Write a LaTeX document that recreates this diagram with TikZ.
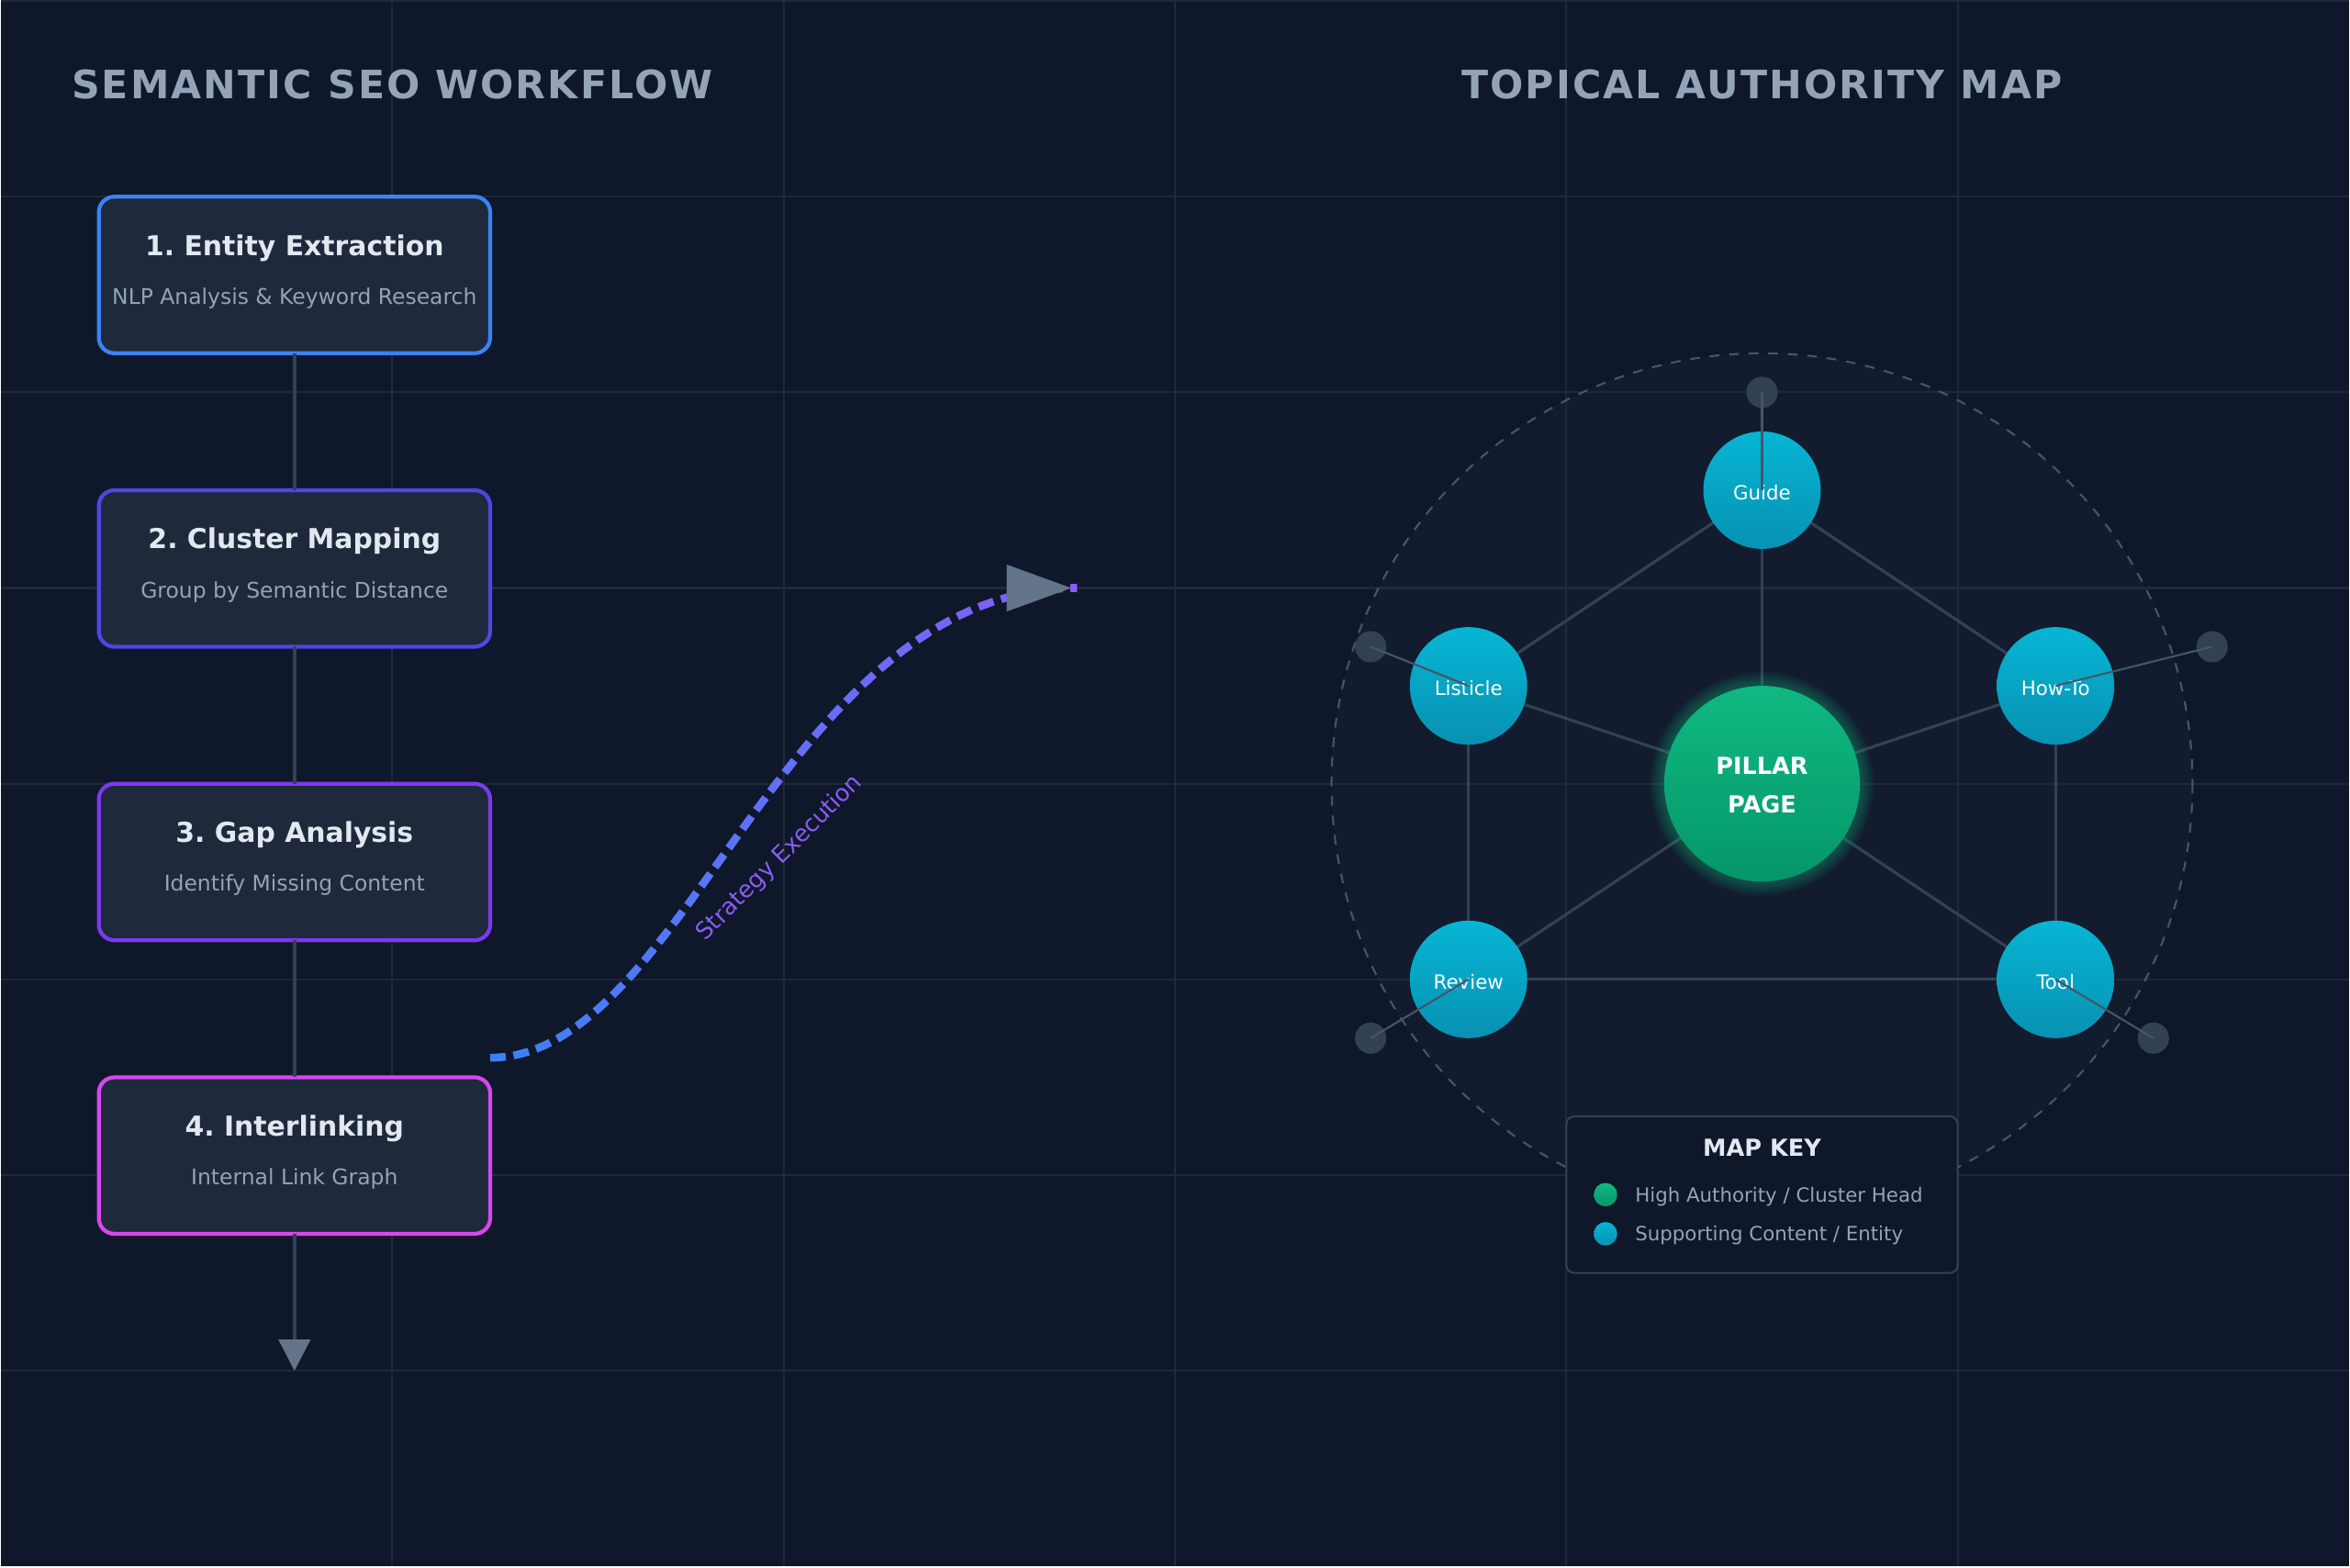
\documentclass[tikz,border=0pt]{standalone}
\usepackage{fontspec}
\setmainfont{DejaVu Sans}
\newfontfamily\spacedfont{DejaVu Sans}[LetterSpace=5]
\usetikzlibrary{arrows.meta,calc}
\definecolor{bg}{HTML}{0F172A}
\definecolor{gridc}{HTML}{1E293B}
\definecolor{boxfill}{HTML}{1E293B}
\definecolor{linec}{HTML}{334155}
\definecolor{spokec}{HTML}{475569}
\definecolor{arrowc}{HTML}{64748B}
\definecolor{titlec}{HTML}{94A3B8}
\definecolor{textw}{HTML}{E2E8F0}
\definecolor{subc}{HTML}{94A3B8}
\definecolor{cone}{HTML}{3B82F6}
\definecolor{ctwo}{HTML}{4F46E5}
\definecolor{cthree}{HTML}{7C3AED}
\definecolor{cfour}{HTML}{D946EF}
\definecolor{vio}{HTML}{8B5CF6}
\definecolor{greenA}{HTML}{10B981}
\definecolor{greenB}{HTML}{059669}
\definecolor{cyanA}{HTML}{06B6D4}
\definecolor{cyanB}{HTML}{0891B2}
\pgfdeclarelayer{back}
\pgfdeclarelayer{edgelayer}
\pgfsetlayers{back,edgelayer,main}
\frenchspacing
\begin{document}
\begin{tikzpicture}[x=1pt,y=-1pt,
  stepbox/.style={draw, rounded corners=8pt, fill=boxfill, line width=2pt, minimum width=200pt, minimum height=80pt, inner sep=0pt, outer sep=0pt},
  boxtitle/.style={anchor=base, inner sep=0pt, text=textw, font=\fontsize{14}{16}\selectfont\bfseries},
  boxsub/.style={anchor=base, inner sep=0pt, text=subc, font=\fontsize{11}{13}\selectfont},
  flow/.style={draw=linec, line width=2pt},
  sat/.style={circle, minimum size=60pt, inner sep=0pt, outer sep=0pt, top color=cyanA, bottom color=cyanB, draw=none},
  satlabel/.style={anchor=base, inner sep=0pt, text=white, font=\fontsize{10}{12}\selectfont},
  satdot/.style={circle, minimum size=16pt, inner sep=0pt, outer sep=0pt, fill=linec},
  spoke/.style={draw=spokec, line width=1pt},
  mapedge/.style={draw=linec, line width=1.5pt},
  bigtitle/.style={anchor=base, inner sep=0pt, text=titlec, font=\fontsize{20}{24}\spacedfont\bfseries},
  keytext/.style={anchor=base west, inner sep=0pt, text=subc, font=\fontsize{10}{12}\selectfont},
  keydot/.style={circle, minimum size=12pt, inner sep=0pt, draw=none}
]
\begin{pgfonlayer}{back}
  \fill[bg] (0,0) rectangle (1200,800);
  \foreach \x in {200,400,...,1000} \draw[gridc, line width=1pt] (\x,0) -- (\x,800);
  \foreach \y in {0,100,...,700} \draw[gridc, line width=1pt] (0,\y) -- (1200,\y);
  \fill[gridc, fill opacity=0.3] (900,400) circle (220);
  \draw[spokec, line width=1pt, dash pattern=on 5pt off 5pt] (900,400) circle (220);
\end{pgfonlayer}
\useasboundingbox (0,0) rectangle (1200,800);

% titles
\node[bigtitle] (t1) at (200,50) {SEMANTIC SEO WORKFLOW};
\node[bigtitle] (t2) at (900,50) {TOPICAL AUTHORITY MAP};

% workflow boxes
\node[stepbox, draw=cone]   (b1) at (150,140) {};
\node[stepbox, draw=ctwo]   (b2) at (150,290) {};
\node[stepbox, draw=cthree] (b3) at (150,440) {};
\node[stepbox, draw=cfour]  (b4) at (150,590) {};
\node[boxtitle] (b1t) at (150,130) {1. Entity Extraction};
\node[boxsub]   (b1s) at (150,155) {NLP Analysis \& Keyword Research};
\node[boxtitle] (b2t) at (150,280) {2. Cluster Mapping};
\node[boxsub]   (b2s) at (150,305) {Group by Semantic Distance};
\node[boxtitle] (b3t) at (150,430) {3. Gap Analysis};
\node[boxsub]   (b3s) at (150,455) {Identify Missing Content};
\node[boxtitle] (b4t) at (150,580) {4. Interlinking};
\node[boxsub]   (b4s) at (150,605) {Internal Link Graph};

\draw[flow] (b1.south) -- (b2.north);
\draw[flow] (b2.south) -- (b3.north);
\draw[flow] (b3.south) -- (b4.north);
\coordinate (flowend) at (150,700);
\draw[flow, -{Triangle[width=16pt,length=16pt,color=arrowc]}] (b4.south) -- (flowend);

% strategy execution curve
\coordinate (cs) at ($(b4.north east)+(0,-10)$);
\coordinate (ce) at (550,300);
\foreach \i in {0,...,31} {
  \pgfmathsetmacro\xa{244+10*\i}
  \pgfmathtruncatemacro\mx{round(100*\i/31)}
  \begin{scope}
    \clip (\xa,250) rectangle (\xa+10.6,560);
    \draw[line width=4pt, dash pattern=on 8pt off 4pt, color=vio!\mx!cone]
      (cs) .. controls (350,540) and (400,300) .. (ce);
  \end{scope}
}
\fill[arrowc] ($(ce)+(-36,-12)$) -- ($(ce)+(-3,0)$) -- ($(ce)+(-36,12)$) -- cycle;
\fill[vio] ($(ce)+(-3.5,-2)$) rectangle ($(ce)+(0,2)$);
\node[rotate=45, inner sep=0pt, text=vio, font=\fontsize{12}{14}\selectfont] (lbl) at (398,438) {Strategy Execution};

% topical map
\coordinate (pc) at (900,400);
\foreach \r in {1,...,7} \fill[greenA, opacity=0.06] (pc) circle (50+\r);
\node[circle, minimum size=100pt, inner sep=0pt, outer sep=0pt, top color=greenA, bottom color=greenB, draw=none] (pillar) at (pc) {};
\node[anchor=base, inner sep=0pt, text=white, font=\fontsize{12}{14}\selectfont\bfseries] (pl1) at (900,395) {PILLAR};
\node[anchor=base, inner sep=0pt, text=white, font=\fontsize{12}{14}\selectfont\bfseries] (pl2) at (900,415) {PAGE};
\node[sat] (guide) at (900,250) {};
\node[sat] (list)  at (750,350) {};
\node[sat] (howto) at (1050,350) {};
\node[sat] (review) at (750,500) {};
\node[sat] (tool)  at (1050,500) {};

\begin{pgfonlayer}{edgelayer}
  \draw[mapedge] (pillar.center) -- (guide.center);
  \draw[mapedge] (pillar.center) -- (list.center);
  \draw[mapedge] (pillar.center) -- (howto.center);
  \draw[mapedge] (pillar.center) -- (review.center);
  \draw[mapedge] (pillar.center) -- (tool.center);
  \draw[mapedge] (guide.center) -- (list.center);
  \draw[mapedge] (guide.center) -- (howto.center);
  \draw[mapedge] (list.center) -- (review.center);
  \draw[mapedge] (howto.center) -- (tool.center);
  \draw[mapedge] (review.center) -- (tool.center);
\end{pgfonlayer}

\node[satlabel] (lg) at (900,255) {Guide};
\node[satlabel] (ll) at (750,355) {Listicle};
\node[satlabel] (lh) at (1050,355) {How-To};
\node[satlabel] (lr) at (750,505) {Review};
\node[satlabel] (lt) at (1050,505) {Tool};

\node[satdot] (dg) at (900,200) {};
\node[satdot] (dl) at (700,330) {};
\node[satdot] (dh) at (1130,330) {};
\node[satdot] (dr) at (700,530) {};
\node[satdot] (dt) at (1100,530) {};
\draw[spoke] (dg.center) -- (guide.center);
\draw[spoke] (dl.center) -- (list.center);
\draw[spoke] (dh.center) -- (howto.center);
\draw[spoke] (dr.center) -- (review.center);
\draw[spoke] (dt.center) -- (tool.center);

% map key
\node[draw=linec, fill=bg, fill opacity=0.95, rounded corners=4pt, line width=1pt, minimum width=200pt, minimum height=80pt, inner sep=0pt] (key) at (900,610) {};
\node[anchor=base, inner sep=0pt, text=textw, font=\fontsize{12}{14}\selectfont\bfseries] (keyt) at (900,590.5) {MAP KEY};
\node[keydot, top color=greenA, bottom color=greenB] (kd1) at (820,610) {};
\node[keydot, top color=cyanA, bottom color=cyanB] (kd2) at (820,630) {};
\node[keytext] (kt1) at (835,613.6) {High Authority / Cluster Head};
\node[keytext] (kt2) at (835,633.6) {Supporting Content / Entity};
\end{tikzpicture}
\end{document}
